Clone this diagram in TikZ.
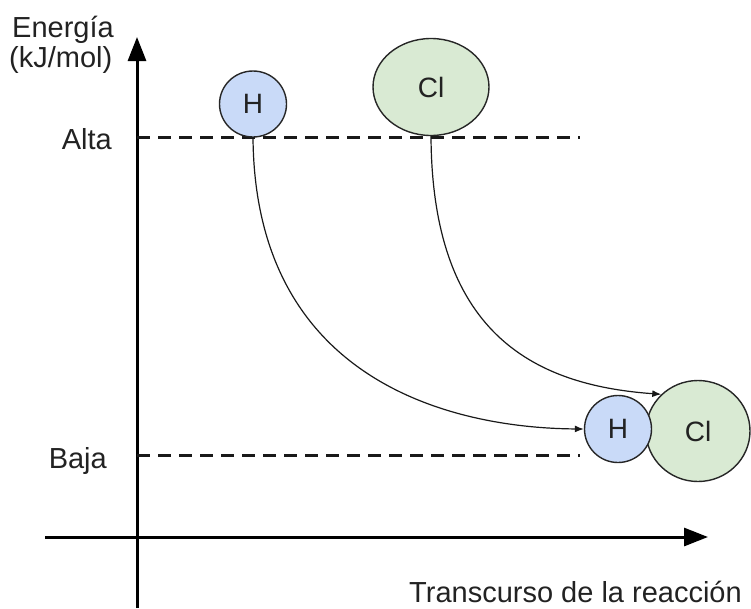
\documentclass[tikz,border=0pt]{standalone}
\usepackage{fontspec}
\setmainfont{Liberation Sans}
\usetikzlibrary{arrows.meta,shapes.geometric}
\definecolor{hblue}{HTML}{C9DAF8}
\definecolor{clgreen}{HTML}{D9EAD3}
\definecolor{ink}{HTML}{222222}
\begin{document}
\begin{tikzpicture}[x=1pt,y=-1pt,
  lbl/.style={font=\fontsize{29}{31}\selectfont, text=ink, inner sep=0pt},
  axis/.style={line width=3pt, draw=black, -{Triangle[length=24pt,width=18pt]}},
  level/.style={line width=3pt, draw=black!90, dash pattern=on 13pt off 8pt},
  atom/.style={ellipse, draw=black!85, line width=1.4pt, inner sep=0pt, text=ink,
    font=\fontsize{28}{30}\selectfont},
  hatom/.style={atom, fill=hblue},
  clatom/.style={atom, fill=clgreen},
  move/.style={line width=1.2pt, draw=black!90, -{Latex[length=9pt,width=7pt]}}
]
\useasboundingbox (0,0) rectangle (751,608);
% axes
\coordinate (ybot) at (137,608);
\coordinate (ytop) at (137,37);
\coordinate (xleft) at (45,537);
\coordinate (xright) at (708,537);
\draw[axis] (ybot) -- (ytop);
\draw[axis] (xleft) -- (xright);
% levels
\coordinate (alta0) at (137,137);
\coordinate (alta1) at (580,137);
\coordinate (baja0) at (137,455);
\coordinate (baja1) at (580,455);
\draw[level] (alta0) -- (alta1);
\draw[level] (baja0) -- (baja1);
% labels
\node[lbl, anchor=base west] (ener) at (12,37) {Energía};
\node[lbl, anchor=base west] (unit) at (9,67) {(kJ/mol)};
\node[lbl, anchor=base east] (alta) at (112,149) {Alta};
\node[lbl, anchor=base east] (baja) at (107,468) {Baja};
\node[lbl, anchor=base west] (trans) at (409,602) {Transcurso de la reacción};
% atoms
\node[hatom, minimum width=67pt, minimum height=66pt] (htop) at (253,104) {H};
\node[clatom, minimum width=116pt, minimum height=97pt] (cltop) at (431,87) {Cl};
\node[clatom, minimum width=104pt, minimum height=101pt] (clbot) at (698,431) {Cl};
\node[hatom, minimum width=67pt, minimum height=67pt] (hbot) at (618,429) {H};
% connectors
\draw[move] (htop.south) .. controls (255,380) and (450,428) .. (hbot.west);
\draw[move] (cltop.south) .. controls (432,330) and (530,385) .. (clbot.135);
\end{tikzpicture}
\end{document}
